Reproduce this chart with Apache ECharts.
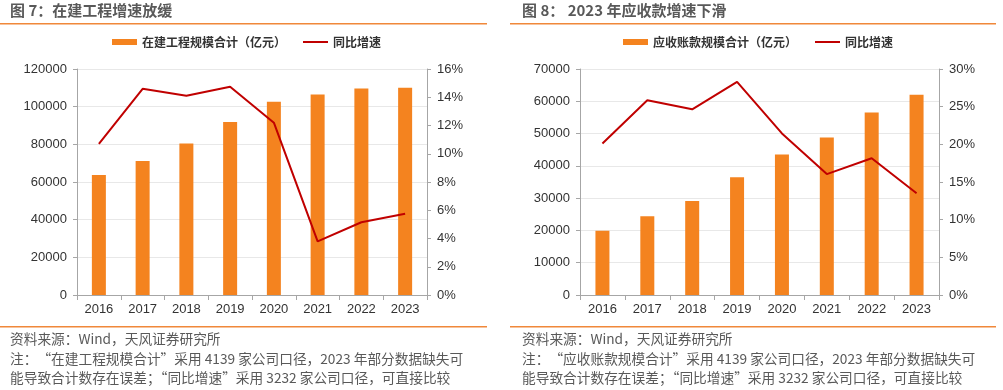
<!DOCTYPE html>
<html><head><meta charset="utf-8">
<script src="https://cdn.jsdelivr.net/npm/echarts@6/dist/echarts.min.js"></script>
<style>html,body{margin:0;padding:0;background:#fff}#c{width:1003px;height:390px}</style>
</head><body><div id="c"></div>
<script>
const years = ['2016','2017','2018','2019','2020','2021','2022','2023'];
const cipScale = [63700, 71100, 80500, 91900, 102600, 106400, 109700, 110100];
const cipGrowth = [10.7, 14.6, 14.1, 14.75, 12.2, 3.8, 5.15, 5.75];
const arScale = [19900, 24400, 29100, 36450, 43550, 48750, 56550, 62050];
const arGrowth = [20.1, 25.85, 24.65, 28.3, 21.45, 16.05, 18.15, 13.5];

const FONT = '"Liberation Sans", "Noto Sans CJK SC", sans-serif';
const ORANGE = '#F4831F', RED = '#C00000', AX = '#A6A6A6', TXT = '#333';
const chart = echarts.init(document.getElementById('c'));

function xAxis(g){return {type:'category',gridIndex:g,data:years,
  axisLine:{lineStyle:{color:AX}},axisTick:{show:true,length:5,lineStyle:{color:AX}},
  axisLabel:{color:TXT,fontSize:13,fontFamily:FONT,margin:8}};}
function yL(g,max,iv){return {type:'value',gridIndex:g,min:0,max:max,interval:iv,
  axisLine:{show:true,lineStyle:{color:AX}},axisTick:{show:true,length:4,lineStyle:{color:AX}},
  splitLine:{lineStyle:{color:'#E8E8E8'}},
  axisLabel:{color:TXT,fontSize:13,fontFamily:FONT,margin:10,formatter:function(v){return String(v);}}};}
function yR(g,max,iv){return {type:'value',gridIndex:g,position:'right',min:0,max:max,interval:iv,
  axisLine:{show:true,lineStyle:{color:AX}},axisTick:{show:true,length:4,lineStyle:{color:AX}},
  splitLine:{show:false},
  axisLabel:{color:TXT,fontSize:13,fontFamily:FONT,margin:10,formatter:'{value}%'}};}

const legText = {color:'#333',fontSize:12,fontWeight:'bold',fontFamily:'"Noto Sans CJK SC", sans-serif'};
function leg(name,left,icon,h){return {data:[{name:name,icon:icon}],left:left,top:36,itemWidth:25,itemHeight:h,itemGap:0,textStyle:legText,padding:0,selectedMode:false};}

const titleStyle = {fill:'#595959',font:'bold 15px "Noto Sans CJK SC", sans-serif'};
const noteStyle = {fill:'#595959',font:'13.7px "Noto Sans CJK SC", sans-serif'};
function notes(x,label){return [
  {type:'text',left:x,top:332,style:Object.assign({text:'资料来源：Wind，天风证券研究所'},noteStyle)},
  {type:'text',left:x,top:352,style:Object.assign({text:'注：“'+label+'”采用 4139 家公司口径，2023 年部分数据缺失可'},noteStyle)},
  {type:'text',left:x,top:371,style:Object.assign({text:'能导致合计数存在误差；“同比增速”采用 3232 家公司口径，可直接比较'},noteStyle)}
];}

chart.setOption({
  animation:false,
  grid:[{left:77,width:350,top:69,height:226},{left:580,width:359,top:69,height:226}],
  xAxis:[xAxis(0),xAxis(1)],
  yAxis:[yL(0,120000,20000),yR(0,16,2),yL(1,70000,10000),yR(1,30,5)],
  legend:[
    leg('在建工程规模合计（亿元）',112,'rect',6),
    leg('同比增速',303,'rect',2),
    leg('应收账款规模合计（亿元）',623,'rect',6),
    leg('同比增速 ',815,'rect',2)
  ],
  series:[
    {name:'在建工程规模合计（亿元）',type:'bar',xAxisIndex:0,yAxisIndex:0,data:cipScale,barWidth:14,itemStyle:{color:ORANGE}},
    {name:'同比增速',type:'line',xAxisIndex:0,yAxisIndex:1,data:cipGrowth,symbol:'none',lineStyle:{color:RED,width:2},itemStyle:{color:RED}},
    {name:'应收账款规模合计（亿元）',type:'bar',xAxisIndex:1,yAxisIndex:2,data:arScale,barWidth:14,itemStyle:{color:ORANGE}},
    {name:'同比增速 ',type:'line',xAxisIndex:1,yAxisIndex:3,data:arGrowth,symbol:'none',lineStyle:{color:RED,width:2},itemStyle:{color:RED}}
  ],
  graphic:[
    {type:'text',left:10,top:3,style:Object.assign({text:'图 7：在建工程增速放缓'},titleStyle)},
    {type:'text',left:522,top:3,style:Object.assign({text:'图 8： 2023 年应收款增速下滑'},titleStyle)},
    {type:'rect',shape:{x:0,y:23,width:487,height:1.5},style:{fill:'#F0883A'}},
    {type:'rect',shape:{x:510,y:23,width:486,height:1.5},style:{fill:'#F0883A'}},
    {type:'rect',shape:{x:0,y:326,width:487,height:1.5},style:{fill:'#F0883A'}},
    {type:'rect',shape:{x:510,y:326,width:486,height:1.5},style:{fill:'#F0883A'}}
  ].concat(notes(10,'在建工程规模合计'),notes(522,'应收账款规模合计'))
});
</script></body></html>
